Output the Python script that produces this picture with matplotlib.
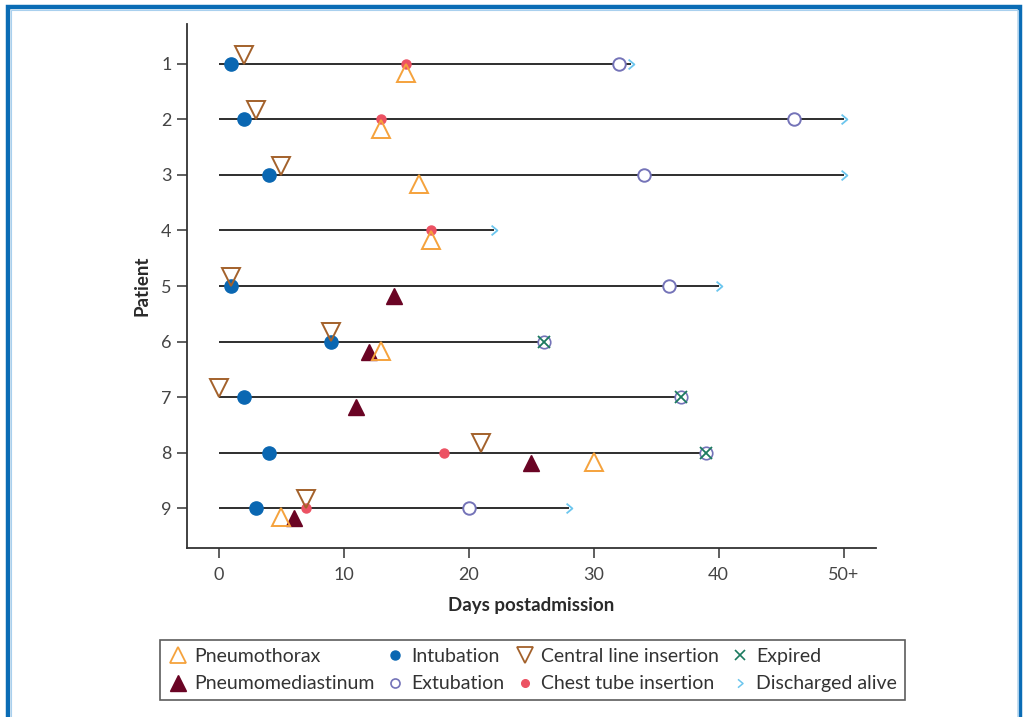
import matplotlib
matplotlib.use('Agg')
import matplotlib.pyplot as plt
from matplotlib.path import Path
from matplotlib.lines import Line2D

plt.rcParams['font.family'] = ['Lato', 'DejaVu Sans']

# ---------------- data ----------------
patients = [1, 2, 3, 4, 5, 6, 7, 8, 9]
end_day = [33, 50, 50, 22, 40, 26, 37, 39, 28]
outcome = ['discharged', 'discharged', 'discharged', 'discharged', 'discharged',
           'expired', 'expired', 'expired', 'discharged']

pneumothorax_pt = [1, 2, 3, 4, 6, 8, 9]
pneumothorax_day = [15, 13, 16, 17, 13, 30, 5]

pneumomediastinum_pt = [5, 6, 7, 8, 9]
pneumomediastinum_day = [14, 12, 11, 25, 6]

intubation_pt = [1, 2, 3, 5, 6, 7, 8, 9]
intubation_day = [1, 2, 4, 1, 9, 2, 4, 3]

extubation_pt = [1, 2, 3, 5, 9]
extubation_day = [32, 46, 34, 36, 20]

central_line_pt = [1, 2, 3, 5, 6, 7, 8, 9]
central_line_day = [2, 3, 5, 1, 9, 0, 21, 7]

chest_tube_pt = [1, 2, 4, 8, 9]
chest_tube_day = [15, 13, 17, 18, 7]

x_ticks = [0, 10, 20, 30, 40, 50]
x_ticklabels = ['0', '10', '20', '30', '40', '50+']

# ---------------- styles ----------------
C_PTX = '#f5a23c'
C_INT = '#0a67b2'
C_CL = '#a3612b'
C_EXP = '#1b7a5f'
C_PMD = '#6a0424'
C_EXT = '#7473b8'
C_CT = '#ec5263'
C_DIS = '#6cc6ee'
TXT = '#2a2a2a'

chevron = Path([(-0.6, 1.0), (0.6, 0.0), (-0.6, -1.0)],
               [Path.MOVETO, Path.LINETO, Path.LINETO])

fig = plt.figure(figsize=(10.25, 7.17), dpi=100)
ax = fig.add_axes([187 / 1025, 1 - 548 / 717, (876 - 187) / 1025, (548 - 24) / 717])

# timelines
for p, e in zip(patients, end_day):
    ax.plot([0, e], [p, p], color='#1e1e1e', lw=1.3, zorder=1, solid_capstyle='butt')

up_off = 0.165
down_off = -0.165

# discharged / expired
dis_x = [e for e, o in zip(end_day, outcome) if o == 'discharged']
dis_y = [p for p, o in zip(patients, outcome) if o == 'discharged']
exp_x = [e for e, o in zip(end_day, outcome) if o == 'expired']
exp_y = [p for p, o in zip(patients, outcome) if o == 'expired']

ax.plot(dis_x, dis_y, ls='none', marker=chevron, ms=7, mfc='none', mec=C_DIS, mew=1.3, zorder=2)
ax.plot(exp_x, exp_y, ls='none', marker='o', ms=9, mfc='white', mec=C_EXT, mew=1.2, zorder=2)
ax.plot(exp_x, exp_y, ls='none', marker='x', ms=8, mec=C_EXP, mew=1.3, zorder=3)

# events
ax.plot(extubation_day, extubation_pt, ls='none', marker='o', ms=9, mfc='white', mec=C_EXT, mew=1.4, zorder=3)
ax.plot(intubation_day, intubation_pt, ls='none', marker='o', ms=9.5, color=C_INT, zorder=4)
ax.plot(chest_tube_day, chest_tube_pt, ls='none', marker='o', ms=6.5, color=C_CT, zorder=4)
ax.plot(pneumomediastinum_day, [p + up_off + 0.015 for p in pneumomediastinum_pt], ls='none',
        marker='^', ms=11, color=C_PMD, zorder=4)
ax.plot(pneumothorax_day, [p + up_off for p in pneumothorax_pt], ls='none',
        marker='^', ms=12.5, mfc='none', mec=C_PTX, mew=1.4, zorder=5)
ax.plot(central_line_day, [p + down_off for p in central_line_pt], ls='none',
        marker='v', ms=12.5, mfc='none', mec=C_CL, mew=1.4, zorder=5)

# axes
ax.set_xlim(-2.52, 52.6)
ax.set_ylim(9.72, 0.28)
ax.set_xticks(x_ticks)
ax.set_xticklabels(x_ticklabels)
ax.set_yticks(patients)
ax.set_yticklabels([str(p) for p in patients])
for s in ['top', 'right']:
    ax.spines[s].set_visible(False)
for s in ['left', 'bottom']:
    ax.spines[s].set_color('#333333')
    ax.spines[s].set_linewidth(1.3)
ax.tick_params(direction='out', length=7, width=1.1, color='#333333',
               labelsize=13, labelcolor='#444444')
ax.tick_params(axis='x', pad=7)
ax.tick_params(axis='y', pad=4)
ax.set_xlabel('Days postadmission', fontsize=13.5, fontweight='bold', color=TXT, labelpad=10)
ax.set_ylabel('Patient', fontsize=13.5, fontweight='bold', color=TXT, labelpad=8)

# legend
h = [
    Line2D([], [], ls='none', marker='^', ms=11, mfc='none', mec=C_PTX, mew=1.3),
    Line2D([], [], ls='none', marker='^', ms=11, color=C_PMD),
    Line2D([], [], ls='none', marker='o', ms=6.5, color=C_INT),
    Line2D([], [], ls='none', marker='o', ms=6.5, mfc='none', mec=C_EXT, mew=1.2),
    Line2D([], [], ls='none', marker='v', ms=11, mfc='none', mec=C_CL, mew=1.3),
    Line2D([], [], ls='none', marker='o', ms=5.5, color=C_CT),
    Line2D([], [], ls='none', marker='x', ms=7, mec=C_EXP, mew=1.2),
    Line2D([], [], ls='none', marker=chevron, ms=6, mfc='none', mec=C_DIS, mew=1.1),
]
labels = ['Pneumothorax', 'Pneumomediastinum', 'Intubation', 'Extubation',
          'Central line insertion', 'Chest tube insertion', 'Expired', 'Discharged alive']
leg = fig.legend(h, labels, ncol=4, loc='center', bbox_to_anchor=(532.5 / 1025, 1 - 670 / 717),
                 bbox_transform=fig.transFigure, frameon=True, fancybox=False,
                 fontsize=14, handlelength=1.0, handletextpad=0.35, columnspacing=0.55,
                 labelspacing=0.55, borderpad=0.4, labelcolor='#333333')
leg.get_frame().set_edgecolor('#333333')
leg.get_frame().set_linewidth(1.2)

# blue frame (open at bottom)
W, H = 1025, 717
fx = lambda x: x / W
fy = lambda y: 1 - y / H
fig.add_artist(Line2D([fx(8), fx(8), fx(1020), fx(1020)], [fy(717), fy(7), fy(7), fy(717)],
                      transform=fig.transFigure, color='#0a6cb5', lw=3.2, solid_joinstyle='miter'))
fig.add_artist(Line2D([fx(10.5), fx(10.5), fx(1017.5), fx(1017.5)], [fy(717), fy(9.5), fy(9.5), fy(717)],
                      transform=fig.transFigure, color='#a9d0ee', lw=0.8, solid_joinstyle='miter'))

fig.savefig('out.png', dpi=100)
